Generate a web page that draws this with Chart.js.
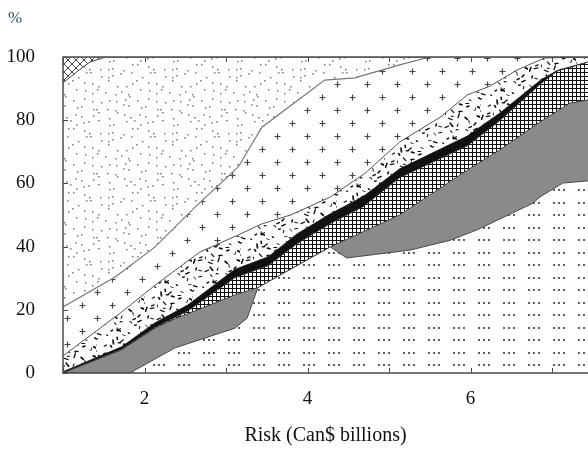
<!DOCTYPE html>
<html>
<head>
<meta charset="utf-8">
<script src="https://cdn.jsdelivr.net/npm/chart.js@4.4.0/dist/chart.umd.min.js"></script>
<style>
  body { margin: 0; background: #fff; }
  #box { width: 588px; height: 450px; }
</style>
</head>
<body>
<div id="box"><canvas id="riskChart"></canvas></div>
<script>
// boundaries of the stacked bands (x = risk, y = cumulative %)
var dotsTopX    = [1.0, 1.82, 2.37, 3.11, 3.26, 3.39, 4.28, 4.48, 5.26, 5.75, 6.08, 6.77, 6.85, 7.13, 7.44];
var dotsTopY    = [0, 0, 7.9, 14.2, 17.4, 27.0, 39.9, 36.4, 38.9, 42.0, 45.3, 53.8, 55.7, 60.1, 60.8];

var grayTopX    = [1.0, 1.72, 2.13, 2.37, 3.11, 3.39, 4.28, 5.13, 5.96, 6.36, 6.85, 7.22, 7.44];
var grayTopY    = [0, 7.3, 14.2, 17.1, 24.7, 27.0, 39.9, 50.0, 64.2, 70.6, 79.4, 85.4, 86.4];

var gridTopX    = [1.0, 1.72, 2.13, 2.53, 3.11, 3.52, 3.87, 4.28, 4.68, 5.13, 5.96, 6.36, 6.85, 7.06, 7.44];
var gridTopY    = [0, 7.5, 14.4, 19.6, 30.2, 34.0, 40.9, 47.3, 52.6, 61.8, 71.9, 79.9, 91.3, 95.5, 98.4];

var blackTopX   = [1.0, 1.72, 2.13, 2.53, 3.11, 3.52, 3.87, 4.28, 4.68, 5.13, 5.96, 6.36, 6.85, 7.06, 7.44];
var blackTopY   = [0.4, 8.3, 15.9, 21.5, 32.8, 36.8, 44.0, 50.4, 55.8, 64.6, 75.0, 82.3, 92.5, 95.7, 98.4];

var speckTopX   = [1.0, 1.72, 2.13, 2.68, 3.15, 3.44, 3.79, 4.28, 4.71, 5.13, 5.63, 5.96, 6.24, 6.57, 6.91, 7.44];
var speckTopY   = [5.4, 19.3, 27.8, 38.3, 43.7, 47.2, 50.0, 55.7, 63.3, 73.1, 81.0, 88.0, 90.8, 95.9, 99.7, 100];

var plusTopX    = [1.0, 1.64, 2.13, 2.62, 3.15, 3.44, 4.21, 4.58, 5.13, 5.5, 7.44];
var plusTopY    = [20.9, 30.4, 39.9, 52.5, 65.2, 77.8, 92.7, 93.4, 97.5, 100, 100];

var fineTopX    = [1.0, 1.17, 1.33, 1.52, 7.44];
var fineTopY    = [91.8, 95.3, 98.4, 100, 100];

var topX        = [1.0, 7.44];
var topY        = [100, 100];

var yTicks = [0, 20, 40, 60, 80, 100];
var xLabels = [2, 4, 6];

function pts(xs, ys) {
   return xs.map(function(x, i) { return { x: x, y: ys[i] }; });
}

// seeded generator, only used to scatter texture specks inside the fill tiles
function seeded(a) {
   return function() {
      a |= 0; a = a + 0x6D2B79F5 | 0;
      var t = Math.imul(a ^ a >>> 15, 1 | a);
      t = t + Math.imul(t ^ t >>> 7, 61 | t) ^ t;
      return ((t ^ t >>> 14) >>> 0) / 4294967296;
   };
}

// little tiles used as fills
function makePattern(w, h, draw) {
   var c = document.createElement('canvas');
   c.width = w; c.height = h;
   var g = c.getContext('2d');
   g.fillStyle = '#fff';
   g.fillRect(0, 0, w, h);
   draw(g);
   return g.createPattern(c, 'repeat');
}

var dotRows = makePattern(25, 25, function(g) {
   g.fillStyle = '#2a2a2a';
   [3, 15].forEach(function(yy) {
      [4, 9, 14].forEach(function(xx) {
         g.beginPath(); g.arc(xx, yy, 1.0, 0, Math.PI * 2); g.fill();
      });
   });
});

var gridFill = makePattern(4, 4, function(g) {
   g.fillStyle = '#111';
   g.fillRect(0, 0, 4, 1);
   g.fillRect(0, 0, 1, 4);
});

var speckFill = makePattern(48, 48, function(g) {
   var r = seeded(12345);
   g.strokeStyle = '#111';
   g.lineCap = 'round';
   for (var cy = 0; cy < 8; cy++) {
      for (var cx = 0; cx < 8; cx++) {
         if (r() < 0.2) continue;
         var x0 = cx * 6 + r() * 5, y0 = cy * 6 + r() * 5;
         var ang = r() * Math.PI, len = 1.5 + r() * 2.5;
         g.lineWidth = 0.9 + r() * 0.9;
         g.beginPath();
         g.moveTo(x0, y0);
         g.lineTo(x0 + Math.cos(ang) * len, y0 + Math.sin(ang) * len);
         g.stroke();
      }
   }
});

var plusFill = makePattern(30, 26, function(g) {
   g.strokeStyle = '#444';
   g.lineWidth = 1.2;
   [[7, 6], [22, 19]].forEach(function(p) {
      g.beginPath();
      g.moveTo(p[0] - 2.5, p[1] + 0.5); g.lineTo(p[0] + 3.5, p[1] + 0.5);
      g.moveTo(p[0] + 0.5, p[1] - 2.5); g.lineTo(p[0] + 0.5, p[1] + 3.5);
      g.stroke();
   });
});

var fineFill = makePattern(64, 64, function(g) {
   var r = seeded(777);
   g.fillStyle = '#7a7a7a';
   for (var cy = 0; cy < 8; cy++) {
      for (var cx = 0; cx < 8; cx++) {
         g.fillRect(Math.floor(cx * 8 + r() * 7), Math.floor(cy * 8 + r() * 7), 1.5, 1.5);
      }
   }
});

var diamondFill = makePattern(8, 8, function(g) {
   g.strokeStyle = '#444';
   g.lineWidth = 1;
   g.beginPath();
   g.moveTo(0, 0); g.lineTo(8, 8);
   g.moveTo(8, 0); g.lineTo(0, 8);
   g.stroke();
});

function band(xs, ys, fill, bg, line, lw) {
   return {
      data: pts(xs, ys),
      fill: fill,
      backgroundColor: bg,
      borderColor: line,
      borderWidth: lw,
      pointRadius: 0,
      tension: 0
   };
}

var frame = {
   id: 'frame',
   afterDatasetsDraw: function(chart) {
      var ctx = chart.ctx, a = chart.chartArea;
      var x = chart.scales.x, y = chart.scales.y;
      ctx.save();
      ctx.strokeStyle = '#4a4a4a';
      ctx.lineWidth = 1.5;
      ctx.beginPath();
      ctx.moveTo(a.right + 2, a.top); ctx.lineTo(a.left, a.top);
      ctx.lineTo(a.left, a.bottom); ctx.lineTo(a.right + 2, a.bottom);
      ctx.stroke();
      ctx.lineWidth = 1;
      x.ticks.forEach(function(t) {
         var px = Math.round(x.getPixelForValue(t.value)) + 0.5;
         ctx.beginPath();
         ctx.moveTo(px, a.bottom); ctx.lineTo(px, a.bottom - 5);
         ctx.moveTo(px, a.top); ctx.lineTo(px, a.top + 5);
         ctx.stroke();
      });
      y.ticks.forEach(function(t) {
         var py = Math.round(y.getPixelForValue(t.value)) + 0.5;
         ctx.beginPath();
         ctx.moveTo(a.left, py); ctx.lineTo(a.left + 5, py);
         ctx.stroke();
      });
      ctx.fillStyle = '#2f5a5a';
      ctx.font = '17px "Liberation Serif", serif';
      ctx.textBaseline = 'middle';
      ctx.fillText('%', 8, 19);
      ctx.restore();
   }
};

var ctx = document.getElementById('riskChart').getContext('2d');
var chart = new Chart(ctx, {
   type: 'line',
   data: {
      datasets: [
         band(dotsTopX, dotsTopY, 'origin', dotRows, '#444', 1),
         band(grayTopX, grayTopY, '-1', '#8a8a8a', '#444', 1),
         band(gridTopX, gridTopY, '-1', gridFill, '#222', 0.8),
         band(blackTopX, blackTopY, '-1', '#111', '#111', 0.8),
         band(speckTopX, speckTopY, '-1', speckFill, '#555', 1),
         band(plusTopX, plusTopY, '-1', plusFill, '#777', 1.2),
         band(fineTopX, fineTopY, '-1', fineFill, '#444', 1),
         band(topX, topY, '-1', diamondFill, '#444', 0)
      ]
   },
   plugins: [frame],
   options: {
      animation: false,
      responsive: true,
      maintainAspectRatio: false,
      layout: { padding: { top: 57, left: 0, right: 0, bottom: 0 } },
      plugins: { legend: { display: false }, tooltip: { enabled: false } },
      scales: {
         x: {
            type: 'linear',
            min: 1.0,
            max: 7.44,
            grid: { display: false, drawTicks: false },
            border: { display: false },
            ticks: {
               stepSize: 1,
               includeBounds: false,
               autoSkip: false,
               maxRotation: 0,
               padding: 15,
               color: '#111',
               font: { family: '"Liberation Serif", serif', size: 19 },
               callback: function(v) { return xLabels.indexOf(v) >= 0 ? String(v) : ''; }
            },
            title: {
               display: true,
               text: 'Risk (Can$ billions)',
               color: '#111',
               font: { family: '"Liberation Serif", serif', size: 20 },
               padding: { top: 0, bottom: 2 }
            },
            afterFit: function(s) { s.height = 77; }
         },
         y: {
            min: 0,
            max: 100,
            grid: { display: false, drawTicks: false },
            border: { display: false },
            afterBuildTicks: function(s) { s.ticks = yTicks.map(function(v) { return { value: v }; }); },
            ticks: {
               padding: 28,
               color: '#111',
               font: { family: '"Liberation Serif", serif', size: 19 }
            },
            afterFit: function(s) { s.width = 63; }
         }
      }
   }
});
</script>
</body>
</html>
